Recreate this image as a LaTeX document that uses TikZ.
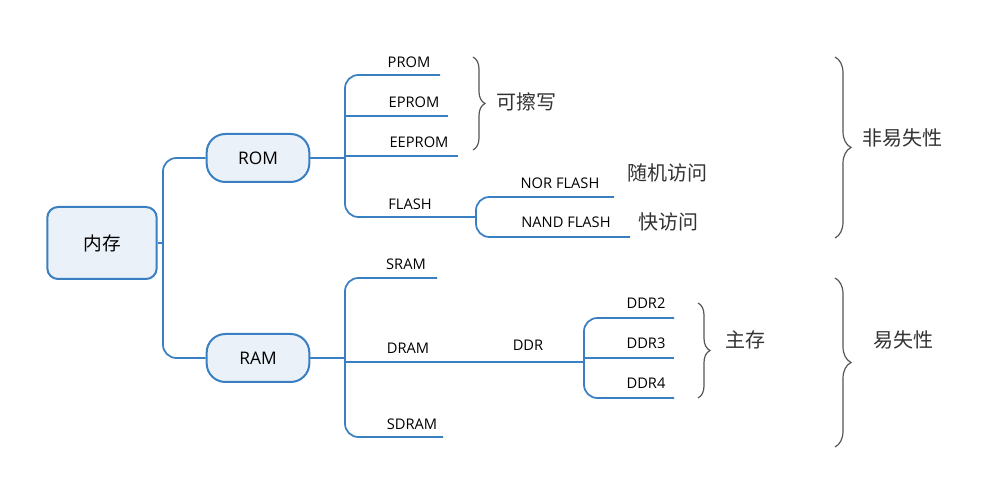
\documentclass[tikz,border=0pt]{standalone}
\usepackage{fontspec}
\setmainfont{Open Sans}
\newfontfamily\cjk{Noto Sans CJK SC}
\usetikzlibrary{decorations.pathreplacing}
\definecolor{lineblue}{HTML}{3A7FC1}
\definecolor{boxfill}{HTML}{EAF1F9}
\definecolor{bracegray}{HTML}{555555}
\tikzset{
  box/.style={draw=lineblue, line width=1.5pt, fill=boxfill, rounded corners=8pt},
  link/.style={draw=lineblue, line width=1.3pt, rounded corners=10pt},
  leaf/.style={font=\fontsize{11}{13}\selectfont, inner sep=0pt},
  note/.style={font=\cjk\fontsize{15}{18}\selectfont, text=black!80, inner sep=0pt},
  bracer/.style={draw=bracegray, line width=0.9pt, decorate, decoration={brace, amplitude=9pt}}
}
\begin{document}
\begin{tikzpicture}[x=0.75pt, y=-0.75pt]
    \useasboundingbox (0,0) rectangle (1001,498);
    % main nodes
    \node[box, minimum width=82pt, minimum height=54pt, font=\cjk\fontsize{14}{16}\selectfont] (mem) at (102,243) {内存};
    \node[box, rounded corners=14pt, minimum width=77pt, minimum height=36pt, font=\fontsize{13}{15}\selectfont] (rom) at (258,158) {ROM};
    \node[box, rounded corners=14pt, minimum width=77pt, minimum height=36pt, font=\fontsize{13}{15}\selectfont] (ram) at (258,358) {RAM};
    \draw[link] (rom.west) -- (163,158) -- (163,358) -- (ram.west);
    \draw[link] (mem.east) -- (163,243);
    % ROM leaves
    \node[leaf] (prom) at (409,62) {PROM};
    \node[leaf] (eprom) at (414,102) {EPROM};
    \node[leaf] (eeprom) at (419,142) {EEPROM};
    \node[leaf] (flash) at (410,204) {FLASH};
    \coordinate (promE) at (440,75);
    \coordinate (epromE) at (448,116);
    \coordinate (eepromE) at (458,156);
    \coordinate (flashE) at (470,217);
    \draw[link] (rom.east) -- (345,158);
    \draw[link] (promE) -- (345,75) -- (345,217) -- (flashE);
    \draw[link] (345,116) -- (epromE);
    \draw[link] (345,156) -- (eepromE);
    % FLASH branch
    \node[leaf] (nor) at (560,183) {NOR FLASH};
    \node[leaf] (nand) at (566,222) {NAND FLASH};
    \coordinate (norE) at (614,197);
    \coordinate (nandE) at (630,237);
    \draw[link] (norE) -- (476,197) -- (476,237) -- (nandE);
    \draw[link] (flashE) -- (476,217);
    % RAM leaves
    \node[leaf] (sram) at (406,264) {SRAM};
    \node[leaf] (dram) at (408,348) {DRAM};
    \node[leaf] (sdram) at (412,424) {SDRAM};
    \node[leaf] (ddr) at (528,345) {DDR};
    \coordinate (sramE) at (437,278);
    \coordinate (sdramE) at (443,437);
    \coordinate (ddrE) at (584,362);
    \draw[link] (ram.east) -- (345,358);
    \draw[link] (sramE) -- (345,278) -- (345,437) -- (sdramE);
    \draw[link] (345,362) -- (ddrE);
    % DDR leaves
    \node[leaf] (ddr2) at (646,303) {DDR2};
    \node[leaf] (ddr3) at (646,343) {DDR3};
    \node[leaf] (ddr4) at (646,383) {DDR4};
    \coordinate (ddr2E) at (674,318);
    \coordinate (ddr3E) at (674,358);
    \coordinate (ddr4E) at (674,398);
    \draw[link] (ddr2E) -- (584,318) -- (584,398) -- (ddr4E);
    \draw[link] (584,358) -- (ddr3E);
    % braces and notes
    \draw[bracer] (473,57) -- (473,150);
    \node[note] (erase) at (526,102) {可擦写};
    \node[note] (rand) at (667,173) {随机访问};
    \node[note] (fast) at (668,222) {快访问};
    \draw[bracer] (698,303) -- (698,398);
    \node[note] (mainm) at (745,340) {主存};
    \draw[bracer, decoration={amplitude=12pt}] (835,57) -- (835,238);
    \node[note] (nonvol) at (902,138) {非易失性};
    \draw[bracer, decoration={amplitude=12pt}] (835,278) -- (835,447);
    \node[note] (vol) at (903,340) {易失性};
\end{tikzpicture}
\end{document}
